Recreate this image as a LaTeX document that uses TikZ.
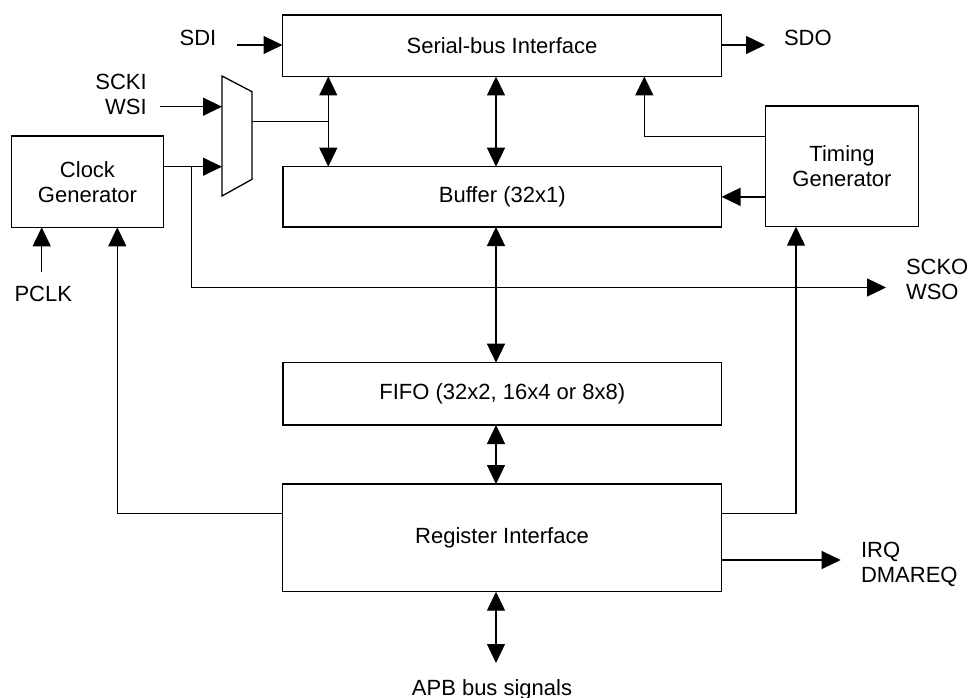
\documentclass[tikz,border=0pt]{standalone}
\usepackage{fontspec}
\setmainfont{Liberation Sans}
\usetikzlibrary{arrows.meta}
\begin{document}
\begin{tikzpicture}[x=1pt,y=-1pt,
  every node/.style={font=\fontsize{22}{25}\selectfont, inner sep=0pt, outer sep=0pt},
  blk/.style={draw, line width=1.3pt, align=center},
  wire/.style={line width=1.3pt},
  arr/.style={wire, -{Triangle[length=19pt,width=18pt]}},
  biarr/.style={wire, {Triangle[length=19pt,width=18pt]}-{Triangle[length=19pt,width=18pt]}}
]
\useasboundingbox (0,0) rectangle (971,698);

% blocks
\node[blk, minimum width=439pt, minimum height=61.5pt] (serial) at (502,45.75) {Serial-bus Interface};
\node[blk, minimum width=438.5pt, minimum height=60.3pt] (buffer) at (502.25,196.85) {Buffer (32x1)};
\node[blk, minimum width=438.5pt, minimum height=62.3pt] (fifo) at (502.25,393.85) {FIFO (32x2, 16x4 or 8x8)};
\node[blk, minimum width=439.4pt, minimum height=107.7pt] (reg) at (502,537.85) {Register Interface};
\node[blk, minimum width=152.6pt, minimum height=120.7pt] (timing) at (842,166.35) {Timing\\Generator};
\node[blk, minimum width=151.6pt, minimum height=91.3pt] (clock) at (87.5,181.65) {Clock\\Generator};

% multiplexer
\draw[wire, line join=miter] (222,76) -- (252,91.7) -- (252,179.3) -- (222,196) -- cycle;
\coordinate (muxA) at (222,106.7);
\coordinate (muxB) at (222,166.7);
\coordinate (muxO) at (252,121.7);
\coordinate (muxJ) at (328.3,121.7);
\coordinate (busx) at (496,300);

% labels
\node (sdi) at (198,38.3) {SDI};
\node[anchor=west] (sdo) at (784,38.3) {SDO};
\node[anchor=east, align=right] (scki) at (146.7,94.5) {SCKI\\WSI};
\node[anchor=west, align=left] (scko) at (906,279) {SCKO\\WSO};
\node[anchor=west, align=left] (irq) at (861,564.5) {IRQ\\DMAREQ};
\node (pclk) at (43.3,294) {PCLK};
\node[anchor=base] (apb) at (492,695) {APB bus signals};

% free ends
\coordinate (sdiS) at (237,45);
\coordinate (sdoE) at (765,45);
\coordinate (sckiS) at (160,106.7);
\coordinate (br) at (191.7,166.7);
\coordinate (sckoE) at (886,287.5);
\coordinate (pclkS) at (41.7,271.7);
\coordinate (apbE) at (496,663);
\coordinate (irqE) at (840.7,560);
\coordinate (tA) at (644.3,136.7);
\coordinate (rT) at (796,513.3);
\coordinate (rC) at (117.3,513.3);

% connectors
\draw[arr] (sdiS) -- (serial.west |- sdiS);
\draw[arr] (serial.east |- sdoE) -- (sdoE);
\draw[arr] (sckiS) -- (muxA);
\draw[arr] (clock.east |- muxB) -- (muxB);
\draw[arr] (br) -- (br |- sckoE) -- (sckoE);
\draw[wire] (muxO) -- (muxJ);
\draw[biarr] (serial.south -| muxJ) -- (buffer.north -| muxJ);
\draw[biarr] (serial.south -| busx) -- (buffer.north -| busx);
\draw[biarr] (buffer.south -| busx) -- (fifo.north -| busx);
\draw[biarr] (fifo.south -| busx) -- (reg.north -| busx);
\draw[biarr] (reg.south -| busx) -- (apbE);
\draw[arr] (timing.west |- tA) -- (tA) -- (tA |- serial.south);
\draw[arr] (timing.west |- buffer.east) -- (buffer.east);
\draw[arr] (reg.east |- rT) -- (rT) -- (rT |- timing.south);
\draw[arr] (reg.west |- rC) -- (rC) -- (rC |- clock.south);
\draw[arr] (pclkS) -- (pclkS |- clock.south);
\draw[arr] (reg.east |- irqE) -- (irqE);
\end{tikzpicture}
\end{document}
